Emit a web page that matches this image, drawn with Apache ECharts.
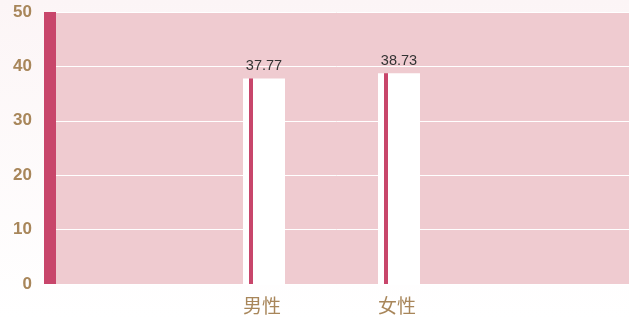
<!DOCTYPE html>
<html>
<head>
<meta charset="utf-8">
<script src="https://cdn.jsdelivr.net/npm/echarts@6/dist/echarts.min.js"></script>
<style>
  html, body { margin: 0; padding: 0; }
  #main { width: 629px; height: 318px; }
</style>
</head>
<body>
<div id="main"></div>
<script>
var myChart = echarts.init(document.getElementById('main'));

var categories = ['男性', '女性'];
var values = [37.77, 38.73];
var yMin = 0;
var yMax = 50;
var yStep = 10;

var gold = '#a8865a';
var rose = '#c8466b';
var font = '"Liberation Sans", "Noto Sans CJK SC", sans-serif';

// 白柱子左侧带一条细红线
var barColor = new echarts.graphic.LinearGradient(0, 0, 1, 0, [
    {offset: 0, color: '#ffffff'},
    {offset: 0.14, color: '#ffffff'},
    {offset: 0.14, color: rose},
    {offset: 0.23, color: rose},
    {offset: 0.23, color: '#ffffff'},
    {offset: 1, color: '#ffffff'}
]);

option = {
    backgroundColor: new echarts.graphic.LinearGradient(0, 0, 0, 1, [
        {offset: 0, color: '#fcf5f6'},
        {offset: 1, color: '#ffffff'}
    ]),
    textStyle: { fontFamily: font },
    grid: [{
        left: 44,
        right: 0,
        top: 12,
        bottom: 34,
        show: true,
        backgroundColor: '#efcbd0',
        borderWidth: 0
    }, {
        left: 196.5,
        right: 162.5,
        top: 12,
        bottom: 34
    }],
    xAxis: [{
        gridIndex: 0,
        type: 'category',
        show: false,
        data: categories
    }, {
        gridIndex: 1,
        type: 'category',
        data: categories,
        axisLine: { show: false },
        axisTick: { show: false },
        axisLabel: {
            color: gold,
            fontSize: 19,
            margin: 12,
            padding: [0, 4, 0, 0],
            fontFamily: '"Noto Sans CJK SC", sans-serif'
        }
    }],
    yAxis: [{
        gridIndex: 0,
        type: 'value',
        min: yMin,
        max: yMax,
        interval: yStep,
        offset: -6,
        axisLine: {
            show: true,
            lineStyle: { color: rose, width: 12, cap: 'butt' }
        },
        axisTick: { show: false },
        axisLabel: {
            color: gold,
            fontSize: 17,
            fontWeight: 'bold',
            margin: 18,
            padding: [3, 0, 0, 0]
        },
        splitLine: {
            lineStyle: { color: '#ffffff', width: 1 }
        }
    }, {
        gridIndex: 1,
        type: 'value',
        min: yMin,
        max: yMax,
        show: false
    }],
    series: [{
        type: 'bar',
        xAxisIndex: 1,
        yAxisIndex: 1,
        data: values,
        barWidth: 42,
        itemStyle: { color: barColor },
        label: {
            show: true,
            position: 'top',
            distance: 5,
            color: '#333333',
            fontSize: 14.5
        },
        z: 3
    }]
};

myChart.setOption(option);
</script>
</body>
</html>
